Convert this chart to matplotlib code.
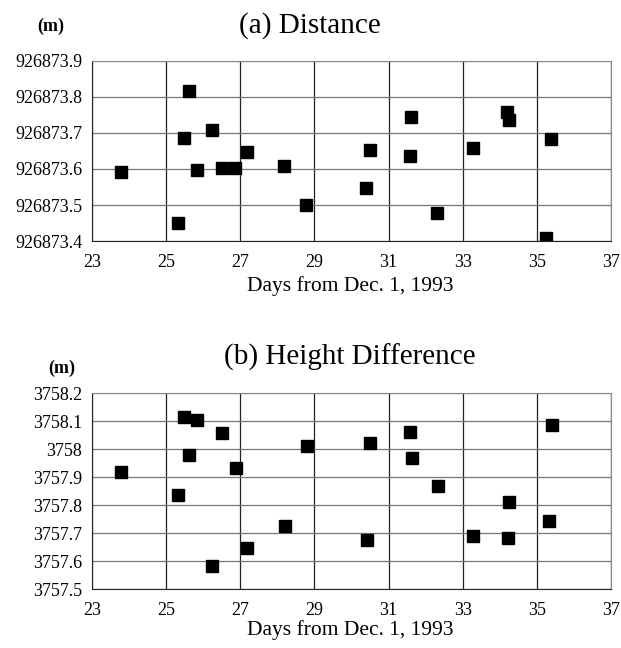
import matplotlib.pyplot as plt
import numpy as np

plt.rcParams['font.family'] = ['Liberation Serif', 'DejaVu Serif']

# (a) Distance, in metres
days_a = [23.79, 25.33, 25.48, 25.63, 25.84, 26.24, 26.51, 26.86, 27.18, 28.19,
          28.78, 30.39, 30.49, 31.60, 31.58, 32.30, 33.27, 34.19, 34.24, 35.25, 35.39]
dist = [926873.593, 926873.451, 926873.687, 926873.816, 926873.598, 926873.707,
        926873.602, 926873.602, 926873.646, 926873.608, 926873.500, 926873.547,
        926873.652, 926873.743, 926873.637, 926873.478, 926873.658, 926873.757,
        926873.736, 926873.409, 926873.684]
dist_ticks = [926873.4, 926873.5, 926873.6, 926873.7, 926873.8, 926873.9]
dist_labels = ["926873.4", "926873.5", "926873.6", "926873.7", "926873.8", "926873.9"]

# (b) Height difference, in metres
days_b = [23.78, 25.33, 25.49, 25.62, 25.84, 26.24, 26.51, 26.88, 27.18, 28.20,
          28.81, 30.41, 30.50, 31.59, 31.62, 32.32, 33.28, 34.21, 34.26, 35.33, 35.42]
height = [3757.920, 3757.838, 3758.114, 3757.981, 3758.105, 3757.582, 3758.057,
          3757.934, 3757.646, 3757.726, 3758.011, 3757.676, 3758.023, 3758.060,
          3757.970, 3757.868, 3757.689, 3757.683, 3757.813, 3757.743, 3758.088]
height_ticks = [3757.5, 3757.6, 3757.7, 3757.8, 3757.9, 3758.0, 3758.1, 3758.2]
height_labels = ["3757.5", "3757.6", "3757.7", "3757.8", "3757.9", "3758", "3758.1", "3758.2"]

xticks = [23, 25, 27, 29, 31, 33, 35, 37]
xlabel = "Days from Dec. 1, 1993"

fig = plt.figure(figsize=(6.21, 6.48), dpi=100)
ax1 = fig.add_axes([0.148, 0.628, 0.836, 0.278])
ax2 = fig.add_axes([0.148, 0.091, 0.836, 0.302])


def style(ax, ticks, labels):
    ax.set_xlim(23, 37)
    ax.set_ylim(ticks[0], ticks[-1])
    ax.set_xticks(xticks)
    ax.set_xticklabels([str(t) for t in xticks])
    ax.set_yticks(ticks)
    ax.set_yticklabels(labels)
    ax.tick_params(length=0, labelsize=13)
    ax.tick_params(axis="x", pad=9)
    ax.tick_params(axis="y", pad=7)
    ax.xaxis.grid(True, color="#222222", lw=0.9)
    ax.yaxis.grid(True, color="#777777", lw=0.9)
    ax.set_axisbelow(True)
    for side in ["left", "bottom"]:
        ax.spines[side].set_color("#222222")
    for side in ["top", "right"]:
        ax.spines[side].set_color("#888888")


ax1.plot(days_a, dist, "s", color="black", ms=8.5)
style(ax1, dist_ticks, dist_labels)
fig.text(310 / 621, 1 - 26 / 648, "(a) Distance", fontsize=21, ha="center", va="center")
fig.text(51 / 621, 1 - 26 / 648, "(m)", fontsize=13, fontweight="bold", ha="center", va="center")
fig.text(350 / 621, 1 - 286 / 648, xlabel, fontsize=15.5, ha="center", va="center")

ax2.plot(days_b, height, "s", color="black", ms=8.5)
style(ax2, height_ticks, height_labels)
fig.text(350 / 621, 1 - 357 / 648, "(b) Height Difference", fontsize=21, ha="center", va="center")
fig.text(62 / 621, 1 - 368 / 648, "(m)", fontsize=13, fontweight="bold", ha="center", va="center")
fig.text(350 / 621, 1 - 630 / 648, xlabel, fontsize=15.5, ha="center", va="center")

fig.savefig("out.png", dpi=100)
